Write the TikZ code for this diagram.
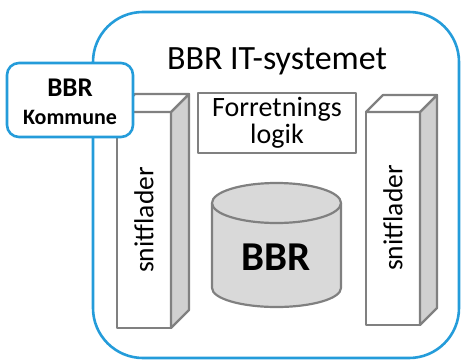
\documentclass[tikz,border=0pt]{standalone}
\usepackage{fontspec}
\setmainfont{Carlito}
\usetikzlibrary{positioning}

\definecolor{rammeblaa}{RGB}{36,156,218}
\definecolor{kantgraa}{RGB}{128,128,128}
\definecolor{sidegraa}{RGB}{208,208,208}
\definecolor{cylgraa}{RGB}{217,217,217}

\tikzset{
  ramme/.style={draw=rammeblaa, line width=2.6pt},
  graakant/.style={draw=kantgraa, line width=2.2pt, line join=round},
  logikboks/.style={graakant, fill=white, minimum width=158pt, minimum height=60pt,
    align=center, inner sep=0pt, font=\fontsize{28}{27}\selectfont},
  snittekst/.style={rotate=90, font=\fontsize{27.5}{30}\selectfont},
}

\begin{document}
\begin{tikzpicture}[x=1pt, y=-1pt]
  \useasboundingbox (0,0) rectangle (463,361);
  % selve systemet
  \draw[ramme, rounded corners=50pt] (93,12) rectangle (459,358);
  \node (titel) at (277,61) {\fontsize{34}{36}\selectfont BBR IT-systemet};
  \node[logikboks] (logik) at (277,123) {Forretnings\\logik};

  % databasen
  \draw[graakant, fill=cylgraa] (212,203) -- (212,288)
    arc[start angle=180, end angle=0, x radius=64.5, y radius=19] -- (341,203);
  \draw[graakant, fill=cylgraa] (276.5,203) ellipse [x radius=64.5, y radius=20];
  \node[font=\fontsize{41}{44}\selectfont\bfseries] (db) at (276.5,257) {BBR};

  % snitflader venstre
  \draw[graakant, fill=white] (117,112) rectangle (171,328);
  \draw[graakant, fill=sidegraa] (171,112) -- (189,94) -- (189,310) -- (171,328) -- cycle;
  \draw[graakant, fill=white] (117,112) -- (135,94) -- (189,94) -- (171,112) -- cycle;
  \node[snittekst] (snitV) at (144,220) {snitflader};

  % snitflader hoejre
  \draw[graakant, fill=white] (366,112) rectangle (420,325);
  \draw[graakant, fill=sidegraa] (420,112) -- (437,95) -- (437,308) -- (420,325) -- cycle;
  \draw[graakant, fill=white] (366,112) -- (383,95) -- (437,95) -- (420,112) -- cycle;
  \node[snittekst] (snitH) at (393,218) {snitflader};

  % kommunen
  \draw[ramme, fill=white, rounded corners=12pt] (7,63) rectangle (133,137);
  \node[font=\fontsize{27}{28}\selectfont\bfseries] (kbbr) at (70,88) {BBR};
  \node[font=\fontsize{22}{24}\selectfont\bfseries] (kom) at (70,117) {Kommune};
\end{tikzpicture}
\end{document}
